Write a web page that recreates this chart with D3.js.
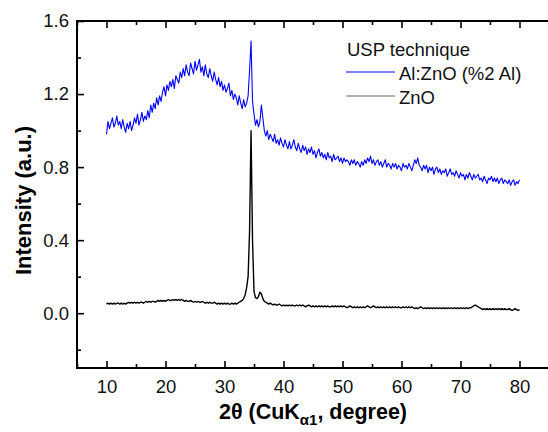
<!DOCTYPE html>
<html>
<head>
<meta charset="utf-8">
<script src="https://cdn.jsdelivr.net/npm/d3@7"></script>
<style>
  html, body { margin: 0; padding: 0; background: #fff; }
  svg { display: block; font-family: Arial, "Liberation Sans", sans-serif; }
</style>
</head>
<body>
<svg id="chart" width="548" height="432"></svg>
<script>
// ---- data ----
const angleStart = 10, angleStep = 0.25; // sampling of 2θ, degrees
const alZnO = [
  0.98,1.05,1.01,1.04, 1.07,1.02,1.04,1.08, 1.03,1.05,1.01,1.06, 1.02,0.99,1.04,1.01,
  1.05,1.00,1.03,1.07, 1.04,1.09,1.03,1.06, 1.10,1.05,1.08,1.06, 1.11,1.07,1.14,1.10,
  1.15,1.12,1.18,1.14, 1.19,1.16,1.21,1.24, 1.19,1.25,1.22,1.27, 1.24,1.28,1.23,1.30,
  1.28,1.26,1.32,1.29, 1.34,1.30,1.36,1.32, 1.30,1.37,1.34,1.31, 1.38,1.33,1.36,1.39,
  1.32,1.35,1.30,1.36, 1.31,1.29,1.34,1.30, 1.27,1.32,1.28,1.25, 1.29,1.24,1.27,1.22,
  1.25,1.21,1.23,1.26, 1.19,1.22,1.17,1.20, 1.18,1.14,1.19,1.15, 1.12,1.17,1.13,1.15,
  1.19,1.33,1.49,1.16, 1.09,1.03,1.06,1.02, 1.05,1.14,1.07,1.00, 0.97,1.00,0.95,0.98,
  0.96,0.94,0.98,0.93, 0.95,0.92,0.96,0.93, 0.91,0.95,0.92,0.90, 0.94,0.90,0.92,0.95,
  0.91,0.89,0.93,0.90, 0.88,0.92,0.89,0.91, 0.87,0.90,0.88,0.91, 0.87,0.89,0.85,0.88,
  0.90,0.86,0.88,0.85, 0.87,0.84,0.88,0.85, 0.86,0.83,0.87,0.84, 0.85,0.86,0.83,0.85,
  0.82,0.85,0.83,0.84, 0.83,0.81,0.84,0.82, 0.84,0.81,0.83,0.82, 0.80,0.83,0.81,0.84,
  0.82,0.85,0.83,0.86, 0.82,0.84,0.81,0.83, 0.84,0.81,0.83,0.80, 0.82,0.84,0.80,0.82,
  0.81,0.79,0.82,0.80, 0.82,0.79,0.81,0.80, 0.78,0.82,0.80,0.81, 0.79,0.82,0.80,0.78,
  0.81,0.84,0.82,0.85, 0.81,0.80,0.78,0.81, 0.79,0.81,0.77,0.80, 0.78,0.80,0.76,0.79,
  0.80,0.77,0.79,0.76, 0.78,0.77,0.79,0.75, 0.77,0.79,0.76,0.77, 0.75,0.78,0.76,0.74,
  0.77,0.75,0.76,0.73, 0.76,0.74,0.77,0.75, 0.73,0.76,0.74,0.75, 0.76,0.73,0.74,0.72,
  0.75,0.73,0.71,0.74, 0.73,0.75,0.72,0.74, 0.72,0.74,0.71,0.73, 0.74,0.71,0.73,0.72,
  0.71,0.73,0.70,0.72, 0.73,0.70,0.72,0.71, 0.73
];
const znO = [
  0.050,0.055,0.050,0.055, 0.050,0.055,0.050,0.055, 0.055,0.050,0.055,0.050, 0.055,0.050,0.055,0.060,
  0.055,0.060,0.055,0.060, 0.055,0.060,0.055,0.060, 0.060,0.055,0.060,0.065, 0.060,0.065,0.060,0.065,
  0.065,0.060,0.065,0.070, 0.065,0.070,0.065,0.070, 0.065,0.070,0.075,0.070, 0.070,0.075,0.070,0.075,
  0.070,0.075,0.070,0.075, 0.070,0.065,0.070,0.065, 0.065,0.070,0.065,0.060, 0.065,0.060,0.065,0.060,
  0.060,0.065,0.060,0.055, 0.060,0.055,0.060,0.055, 0.055,0.060,0.055,0.050, 0.055,0.050,0.055,0.050,
  0.055,0.050,0.055,0.050, 0.050,0.055,0.050,0.055, 0.050,0.055,0.060,0.065, 0.070,0.080,0.100,0.140,
  0.200,0.450,1.000,0.400, 0.120,0.085,0.080,0.090, 0.115,0.105,0.080,0.065, 0.060,0.055,0.050,0.055,
  0.050,0.045,0.050,0.045, 0.045,0.050,0.045,0.040, 0.045,0.040,0.045,0.040, 0.045,0.040,0.045,0.040,
  0.040,0.045,0.040,0.045, 0.040,0.045,0.040,0.035, 0.040,0.045,0.040,0.035, 0.040,0.035,0.040,0.035,
  0.040,0.035,0.040,0.035, 0.040,0.035,0.040,0.035, 0.035,0.040,0.035,0.040, 0.035,0.040,0.035,0.040,
  0.035,0.040,0.035,0.030, 0.035,0.040,0.035,0.030, 0.035,0.030,0.035,0.030, 0.035,0.030,0.035,0.030,
  0.035,0.040,0.035,0.030, 0.035,0.040,0.035,0.030, 0.035,0.030,0.035,0.030, 0.035,0.030,0.035,0.030,
  0.035,0.030,0.035,0.030, 0.035,0.030,0.035,0.030, 0.030,0.035,0.030,0.035, 0.030,0.035,0.030,0.035,
  0.030,0.025,0.030,0.025, 0.030,0.035,0.030,0.025, 0.030,0.025,0.030,0.025, 0.030,0.025,0.030,0.025,
  0.030,0.025,0.030,0.025, 0.030,0.025,0.030,0.025, 0.030,0.025,0.030,0.025, 0.030,0.025,0.030,0.025,
  0.030,0.025,0.030,0.025, 0.030,0.025,0.030,0.030, 0.035,0.040,0.045,0.040, 0.035,0.030,0.025,0.020,
  0.025,0.020,0.025,0.020, 0.025,0.020,0.025,0.020, 0.025,0.020,0.025,0.020, 0.025,0.020,0.025,0.020,
  0.020,0.025,0.020,0.015, 0.020,0.025,0.020,0.015, 0.020
];
const xMajorTicks = [10, 20, 30, 40, 50, 60, 70, 80];
const xMinorTicks = [5, 15, 25, 35, 45, 55, 65, 75, 85];
const yMajorTicks = [0.0, 0.4, 0.8, 1.2, 1.6];
const yMinorTicks = [-0.2, 0.2, 0.6, 1.0, 1.4];
const seriesNames = ["Al:ZnO (%2 Al)", "ZnO"];
const seriesColors = ["#0000ff", "#000000"];
const legendTitle = "USP technique";

// ---- layout ----
const svg = d3.select("#chart");
const mLeft = 77, mRight = 549, mTop = 21, mBottom = 368;

const x = d3.scaleLinear().domain([5, 85]).range([mLeft, mRight]);
const y = d3.scaleLinear().domain([-0.3, 1.6]).range([mBottom, mTop]);

const angleOf = i => angleStart + i * angleStep;
const line = d3.line().x((d, i) => x(angleOf(i))).y(d => y(d));

// series
svg.append("path").datum(alZnO).attr("d", line)
  .attr("fill", "none").attr("stroke", seriesColors[0]).attr("stroke-width", 1.1)
  .attr("stroke-linejoin", "round");
svg.append("path").datum(znO).attr("d", line)
  .attr("fill", "none").attr("stroke", seriesColors[1]).attr("stroke-width", 1.4)
  .attr("stroke-linejoin", "round");

const fs = "18.5px";
// bottom axis
const gB = svg.append("g").attr("transform", `translate(0,${mBottom})`);
gB.call(d3.axisBottom(x).tickValues(xMajorTicks).tickSize(-7).tickPadding(12).tickFormat(d3.format("d")));
gB.append("g").call(d3.axisBottom(x).tickValues(xMinorTicks).tickSize(-4).tickFormat(""));
// top axis
const gT = svg.append("g").attr("transform", `translate(0,${mTop})`);
gT.call(d3.axisTop(x).tickValues(xMajorTicks).tickSize(-7).tickFormat(""));
gT.append("g").call(d3.axisTop(x).tickValues(xMinorTicks).tickSize(-4).tickFormat(""));
// left axis
const gL = svg.append("g").attr("transform", `translate(${mLeft},0)`);
gL.call(d3.axisLeft(y).tickValues(yMajorTicks).tickSize(-7).tickPadding(8).tickFormat(d3.format(".1f")));
gL.append("g").call(d3.axisLeft(y).tickValues(yMinorTicks).tickSize(-4).tickFormat(""));

svg.selectAll(".domain").remove();
svg.selectAll(".tick line").attr("stroke", "#000").attr("stroke-width", 1.6);
svg.selectAll(".tick text").attr("font-size", fs).attr("fill", "#111")
  .attr("font-family", "Arial, 'Liberation Sans', sans-serif");

// frame lines
svg.append("line").attr("x1", mLeft).attr("x2", mRight).attr("y1", mBottom).attr("y2", mBottom)
  .attr("stroke", "#000").attr("stroke-width", 2);
svg.append("line").attr("x1", mLeft).attr("x2", mRight).attr("y1", mTop).attr("y2", mTop)
  .attr("stroke", "#000").attr("stroke-width", 2);
svg.append("line").attr("x1", mLeft).attr("x2", mLeft).attr("y1", mTop - 1).attr("y2", mBottom + 1)
  .attr("stroke", "#000").attr("stroke-width", 2);

// axis titles
svg.append("text")
  .attr("transform", `translate(23,${(mTop + mBottom) / 2 + 6}) rotate(-90)`)
  .attr("text-anchor", "middle").attr("dominant-baseline", "central")
  .attr("font-size", "22px").attr("font-weight", "bold").text("Intensity (a.u.)");

const xt = svg.append("text").attr("x", (mLeft + mRight) / 2).attr("y", 419)
  .attr("text-anchor", "middle").attr("font-size", "21.5px").attr("font-weight", "bold");
xt.append("tspan").text("2θ (CuK");
xt.append("tspan").attr("dy", 6).attr("font-size", "15px").text("α1");
xt.append("tspan").attr("dy", -6).text(", degree)");

// legend
const lg = svg.append("g").attr("font-size", "18.5px").attr("fill", "#111");
lg.append("text").attr("x", 347).attr("y", 56).text(legendTitle);
const legendLineY = [72, 96];
seriesNames.forEach((name, i) => {
  const yy = legendLineY[i];
  lg.append("line").attr("x1", 346).attr("x2", 395).attr("y1", yy).attr("y2", yy)
    .attr("stroke", i === 0 ? seriesColors[0] : "#666").attr("stroke-width", 1.2);
  lg.append("text").attr("x", 399).attr("y", yy + 8).text(name);
});
</script>
</body>
</html>
